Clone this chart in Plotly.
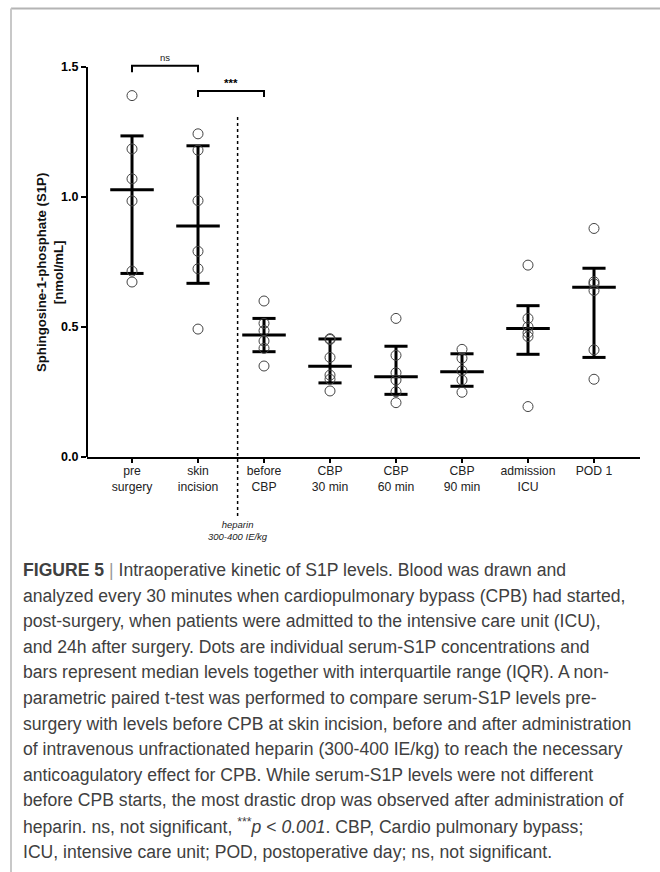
import plotly.graph_objects as go

# ---------------- data ----------------
categories = ["pre<br>surgery", "skin<br>incision", "before<br>CBP", "CBP<br>30 min",
              "CBP<br>60 min", "CBP<br>90 min", "admission<br>ICU", "POD 1"]
pre_surgery = [1.39, 1.185, 1.07, 0.985, 0.715, 0.673]
skin_incision = [1.243, 1.18, 0.986, 0.791, 0.724, 0.492]
before_cbp = [0.60, 0.514, 0.486, 0.446, 0.418, 0.35]
cbp_30 = [0.455, 0.452, 0.383, 0.315, 0.299, 0.254]
cbp_60 = [0.533, 0.391, 0.324, 0.296, 0.251, 0.209]
cbp_90 = [0.414, 0.38, 0.332, 0.296, 0.249]
admission_icu = [0.738, 0.533, 0.501, 0.478, 0.463, 0.194]
pod_1 = [0.879, 0.674, 0.666, 0.64, 0.412, 0.299]
groups = [pre_surgery, skin_incision, before_cbp, cbp_30, cbp_60, cbp_90, admission_icu, pod_1]

medians = [1.028, 0.888, 0.469, 0.349, 0.309, 0.328, 0.494, 0.653]
q1 = [0.706, 0.668, 0.405, 0.285, 0.241, 0.272, 0.395, 0.383]
q3 = [1.235, 1.197, 0.533, 0.454, 0.426, 0.397, 0.582, 0.726]

y_ticks = [0.0, 0.5, 1.0, 1.5]
y_tick_labels = ["0.0", "0.5", "1.0", "1.5"]

caption_lines = [
    "<b>FIGURE 5</b> <span style='color:#9a9a9a'>|</span> Intraoperative kinetic of S1P levels. Blood was drawn and",
    "analyzed every 30 minutes when cardiopulmonary bypass (CPB) had started,",
    "post-surgery, when patients were admitted to the intensive care unit (ICU),",
    "and 24h after surgery. Dots are individual serum-S1P concentrations and",
    "bars represent median levels together with interquartile range (IQR). A non-",
    "parametric paired t-test was performed to compare serum-S1P levels pre-",
    "surgery with levels before CPB at skin incision, before and after administration",
    "of intravenous unfractionated heparin (300-400 IE/kg) to reach the necessary",
    "anticoagulatory effect for CPB. While serum-S1P levels were not different",
    "before CPB starts, the most drastic drop was observed after administration of",
    "heparin. ns, not significant, <sup>***</sup><i>p</i> &lt; <i>0.001</i>. CBP, Cardio pulmonary bypass;",
    "ICU, intensive care unit; POD, postoperative day; ns, not significant.",
]

# ---------------- layout geometry ----------------
W, H = 660, 872
L, R, T, B = 87, 20, 28, 415
x_range = [-0.682, 7.697]
y_range = [0, 1.65]
PW, PH = W - L - R, H - T - B


def px_x(p):
    return (p - L) / PW


def px_y(p):
    return (H - B - p) / PH


FONT = "Liberation Sans, Arial, sans-serif"

fig = go.Figure()

# IQR bars, caps and medians
bx, by = [], []
for i in range(len(categories)):
    bx += [i, i, None]
    by += [q1[i], q3[i], None]
    for v in (q1[i], q3[i]):
        bx += [i - 0.175, i + 0.175, None]
        by += [v, v, None]
    bx += [i - 0.33, i + 0.33, None]
    by += [medians[i], medians[i], None]
fig.add_trace(go.Scatter(x=bx, y=by, mode="lines",
                         line=dict(color="black", width=3), hoverinfo="skip"))

# individual points
px_, py_ = [], []
for i, g in enumerate(groups):
    px_ += [i] * len(g)
    py_ += g
fig.add_trace(go.Scatter(x=px_, y=py_, mode="markers",
                         marker=dict(symbol="circle-open", size=10, color="#444444",
                                     line=dict(width=1))))

shapes = []
# y axis line (0 to 1.5)
shapes.append(dict(type="line", xref="paper", yref="y", x0=0, x1=0, y0=0, y1=1.5,
                   line=dict(color="black", width=2)))
# significance brackets
for (a, b_, top, leg) in [(0, 1, 1.505, 1.48), (1, 2, 1.408, 1.385)]:
    shapes.append(dict(type="path", xref="x", yref="y",
                       path=f"M {a},{leg} L {a},{top} L {b_},{top} L {b_},{leg}",
                       line=dict(color="black", width=2)))
# heparin dotted line
shapes.append(dict(type="line", xref="x", yref="paper", x0=1.6, x1=1.6,
                   y0=px_y(516), y1=1.315 / y_range[1],
                   line=dict(color="black", width=1.5, dash="dot")))
# frame border
shapes.append(dict(type="line", xref="paper", yref="paper", x0=px_x(11), x1=px_x(670),
                   y0=px_y(8.5), y1=px_y(8.5), line=dict(color="#b4b4b4", width=2)))
shapes.append(dict(type="line", xref="paper", yref="paper", x0=px_x(11), x1=px_x(11),
                   y0=px_y(8.5), y1=px_y(880), line=dict(color="#c8c8c8", width=2)))

annotations = [
    dict(x=0.5, y=1.538, xref="x", yref="y", text="ns", showarrow=False,
         font=dict(size=9.5, color="#222")),
    dict(x=1.5, y=1.44, xref="x", yref="y", text="<b>***</b>", showarrow=False,
         font=dict(size=11.5, color="black")),
    dict(x=1.6, xref="x", xanchor="center", y=px_y(530.5), yref="paper", yanchor="middle",
         text="<i>heparin<br>300-400 IE/kg</i>",
         showarrow=False, font=dict(size=9.5, color="#222")),
    dict(x=px_x(50), xref="paper", xanchor="center", y=px_y(273), yref="paper",
         yanchor="middle", textangle=-90,
         text="<b>Sphingosine-1-phosphate (S1P)<br>[nmol/mL]</b>", showarrow=False,
         font=dict(size=13.2, color="#111")),
]
for k, line in enumerate(caption_lines):
    annotations.append(dict(x=px_x(21), xref="paper", xanchor="left",
                            y=px_y(570 + 25.6 * k), yref="paper", yanchor="middle",
                            text=line, showarrow=False, align="left",
                            font=dict(size=17.6, color="#404040", family=FONT)))

fig.update_layout(
    width=W, height=H, margin=dict(l=L, r=R, t=T, b=B),
    paper_bgcolor="white", plot_bgcolor="white", showlegend=False,
    font=dict(family=FONT, color="#111"),
    shapes=shapes, annotations=annotations,
    xaxis=dict(range=x_range, tickmode="array", tickvals=list(range(len(categories))),
               ticktext=categories, ticks="outside", ticklen=4, tickwidth=2,
               tickcolor="black", showline=True, linewidth=2, linecolor="black",
               ticklabelstandoff=-3,
               showgrid=False, zeroline=False, tickfont=dict(size=12.2, color="#222")),
    yaxis=dict(range=y_range, tickmode="array", tickvals=y_ticks, ticktext=y_tick_labels,
               ticks="outside", ticklen=5, tickwidth=2, tickcolor="black",
               showline=False, showgrid=False, zeroline=False,
               tickfont=dict(size=12.5, color="black", weight="bold")),
)

fig.write_html("out.html", config={"displayModeBar": False},
               post_script="document.body.style.margin='0';")
